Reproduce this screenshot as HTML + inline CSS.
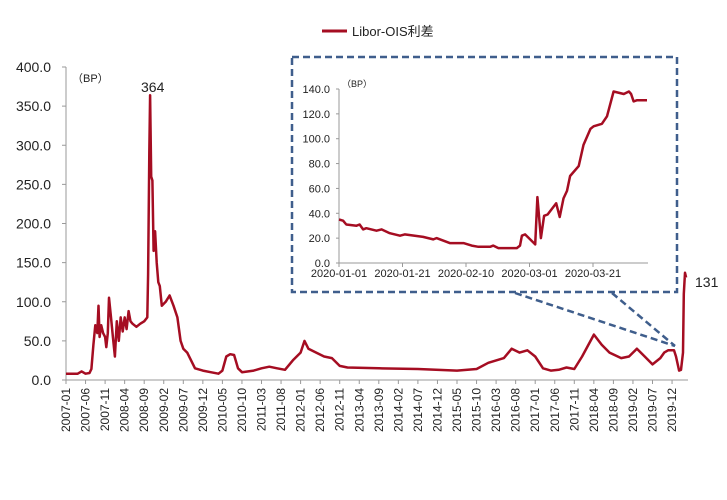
<!DOCTYPE html>
<html><head><meta charset="utf-8"><style>
body{margin:0;background:#fff;width:727px;height:495px;overflow:hidden}
svg{font-family:"Liberation Sans","Noto Sans CJK SC",sans-serif}
</style></head><body>
<svg id="c" width="727" height="495"></svg>
<script>
const mainYTicks=[0,50,100,150,200,250,300,350,400];
const mainSeries=[[0,8],[3,8],[4,11],[5,8],[6,9],[6.5,14],[7,45],[7.5,70],[8,60],[8.3,95],[8.6,55],[9,70],[9.5,60],[10,55],[10.3,42],[10.7,60],[11,105],[11.5,80],[12,55],[12.5,30],[13,75],[13.5,50],[14,80],[14.5,62],[15,80],[15.5,65],[16,88],[16.5,75],[17,72],[18,68],[19,72],[20,75],[20.8,80],[21,135],[21.3,290],[21.5,364],[21.8,260],[22.1,255],[22.4,165],[22.8,190],[23.2,150],[23.6,125],[24,120],[24.5,95],[25.5,100],[26.5,108],[27.5,95],[28.5,80],[29.3,50],[30,40],[31,35],[32,25],[33,15],[35,12],[37,10],[39,8],[40,12],[41,30],[42,33],[43,32],[44,15],[45,10],[48,12],[50,15],[52,17],[54,15],[56,13],[58,25],[60,35],[61,50],[62,40],[64,35],[66,30],[68,28],[70,18],[72,16],[80,15],[90,14],[100,12],[105,14],[108,22],[112,28],[114,40],[116,35],[118,38],[120,30],[122,15],[124,12],[126,13],[128,16],[130,14],[132,30],[135,58],[137,45],[139,35],[142,28],[144,30],[146,40],[148,30],[150,20],[152,28],[153,35],[154,38],[155.5,38],[156,30],[156.8,12],[157.3,13],[157.8,35],[158,110],[158.3,137],[158.6,131]];
const insetYTicks=[0,20,40,60,80,100,120,140];
const insetXTicks=["2020-01-01","2020-01-21","2020-02-10","2020-03-01","2020-03-21"];
const insetSeries=[[0,35],[1.3,34],[2.3,31],[5.5,30],[6.5,31],[7.6,27],[8.6,28],[11.8,26],[13.4,27],[16,24],[19.2,22],[20.7,23],[26.5,21],[29.7,19],[30.7,20],[34.9,16],[39.2,16],[41.8,14],[43.9,13],[47.6,13],[48.6,14],[50.2,12],[56,12],[57,14],[57.6,22],[58.6,23],[61.8,15],[62.5,53],[63.6,20],[64.6,38],[65.7,39],[68.4,48],[69.5,37],[70.7,52],[71.8,58],[72.8,70],[75.5,78],[77,95],[79.2,108],[80.2,110],[82.8,112],[84.4,118],[86.5,138],[89.7,136],[91.3,138],[92,136],[92.8,130],[93.9,131],[97,131]];
const NS='http://www.w3.org/2000/svg';
const svg=document.getElementById('c');
function mk(t,a,p){const e=document.createElementNS(NS,t);for(const k in a)e.setAttribute(k,a[k]);(p||svg).appendChild(e);return e;}
const mx=m=>66+m*3.91, my=v=>380-v*0.7825;
let e;
e=mk('line',{x1:66,y1:67,x2:66,y2:380,stroke:'#999'});

e=mk('line',{x1:66,y1:380,x2:688,y2:380,stroke:'#999'});

mainYTicks.forEach(v=>{mk('line',{x1:62,y1:my(v),x2:66,y2:my(v),stroke:'#999'});
 e=mk('text',{x:51,y:my(v)+5,'text-anchor':'end','font-size':14,fill:'#222'});e.textContent=v.toFixed(1);
 });
for(let m=0;m<=155;m+=5){const y=2007+Math.floor(m/12),mo=m%12+1;const x=mx(m);
 mk('line',{x1:x,y1:380,x2:x,y2:384,stroke:'#999'});
 e=mk('text',{transform:`translate(${x+4},388) rotate(-90)`,'text-anchor':'end','font-size':12,fill:'#222'});
 e.textContent=y+'-'+String(mo).padStart(2,'0');
 }
e=mk('path',{d:mainSeries.map((p,i)=>(i?'L':'M')+mx(p[0]).toFixed(1)+','+my(p[1]).toFixed(1)).join(''),fill:'none',stroke:'#a50d22','stroke-width':2.5,'stroke-linejoin':'round'});

e=mk('text',{x:72,y:82,'font-size':11,fill:'#222'});e.textContent='（BP）';

e=mk('text',{x:141,y:92,'font-size':14,fill:'#222'});e.textContent='364';

e=mk('text',{x:695,y:287,'font-size':14,fill:'#222'});e.textContent='131';

e=mk('line',{x1:322,y1:31,x2:347,y2:31,stroke:'#a50d22','stroke-width':3});

e=mk('text',{x:352,y:36,'font-size':13,fill:'#222'});e.textContent='Libor-OIS利差';

e=mk('rect',{x:292,y:57,width:385,height:235,fill:'#fff',stroke:'#3f5e8c','stroke-width':2.5,'stroke-dasharray':'7,4'});

e=mk('line',{x1:515,y1:293,x2:675,y2:346,stroke:'#3f5e8c','stroke-width':2.5,'stroke-dasharray':'7,4'});

e=mk('line',{x1:612,y1:293,x2:675,y2:346,stroke:'#3f5e8c','stroke-width':2.5,'stroke-dasharray':'7,4'});

const ix=d=>339+d*3.175, iy=v=>263-v*(174/140);
mk('line',{x1:339,y1:89,x2:339,y2:263,stroke:'#999'});
mk('line',{x1:339,y1:263,x2:648,y2:263,stroke:'#999'});
insetYTicks.forEach(v=>{mk('line',{x1:336,y1:iy(v),x2:339,y2:iy(v),stroke:'#999'});
 e=mk('text',{x:330,y:iy(v)+4,'text-anchor':'end','font-size':11,fill:'#222'});e.textContent=v.toFixed(1);
 });
insetXTicks.forEach((t,i)=>{const x=ix(i*20);mk('line',{x1:x,y1:263,x2:x,y2:267,stroke:'#999'});
 e=mk('text',{x:x,y:277,'text-anchor':'middle','font-size':11,fill:'#222'});e.textContent=t;
 });
e=mk('text',{x:342,y:87,'font-size':9,fill:'#222'});e.textContent='（BP）';

e=mk('path',{d:insetSeries.map((p,i)=>(i?'L':'M')+ix(p[0]).toFixed(1)+','+iy(p[1]).toFixed(1)).join(''),fill:'none',stroke:'#a50d22','stroke-width':2.5,'stroke-linejoin':'round'});

</script>
</body></html>
